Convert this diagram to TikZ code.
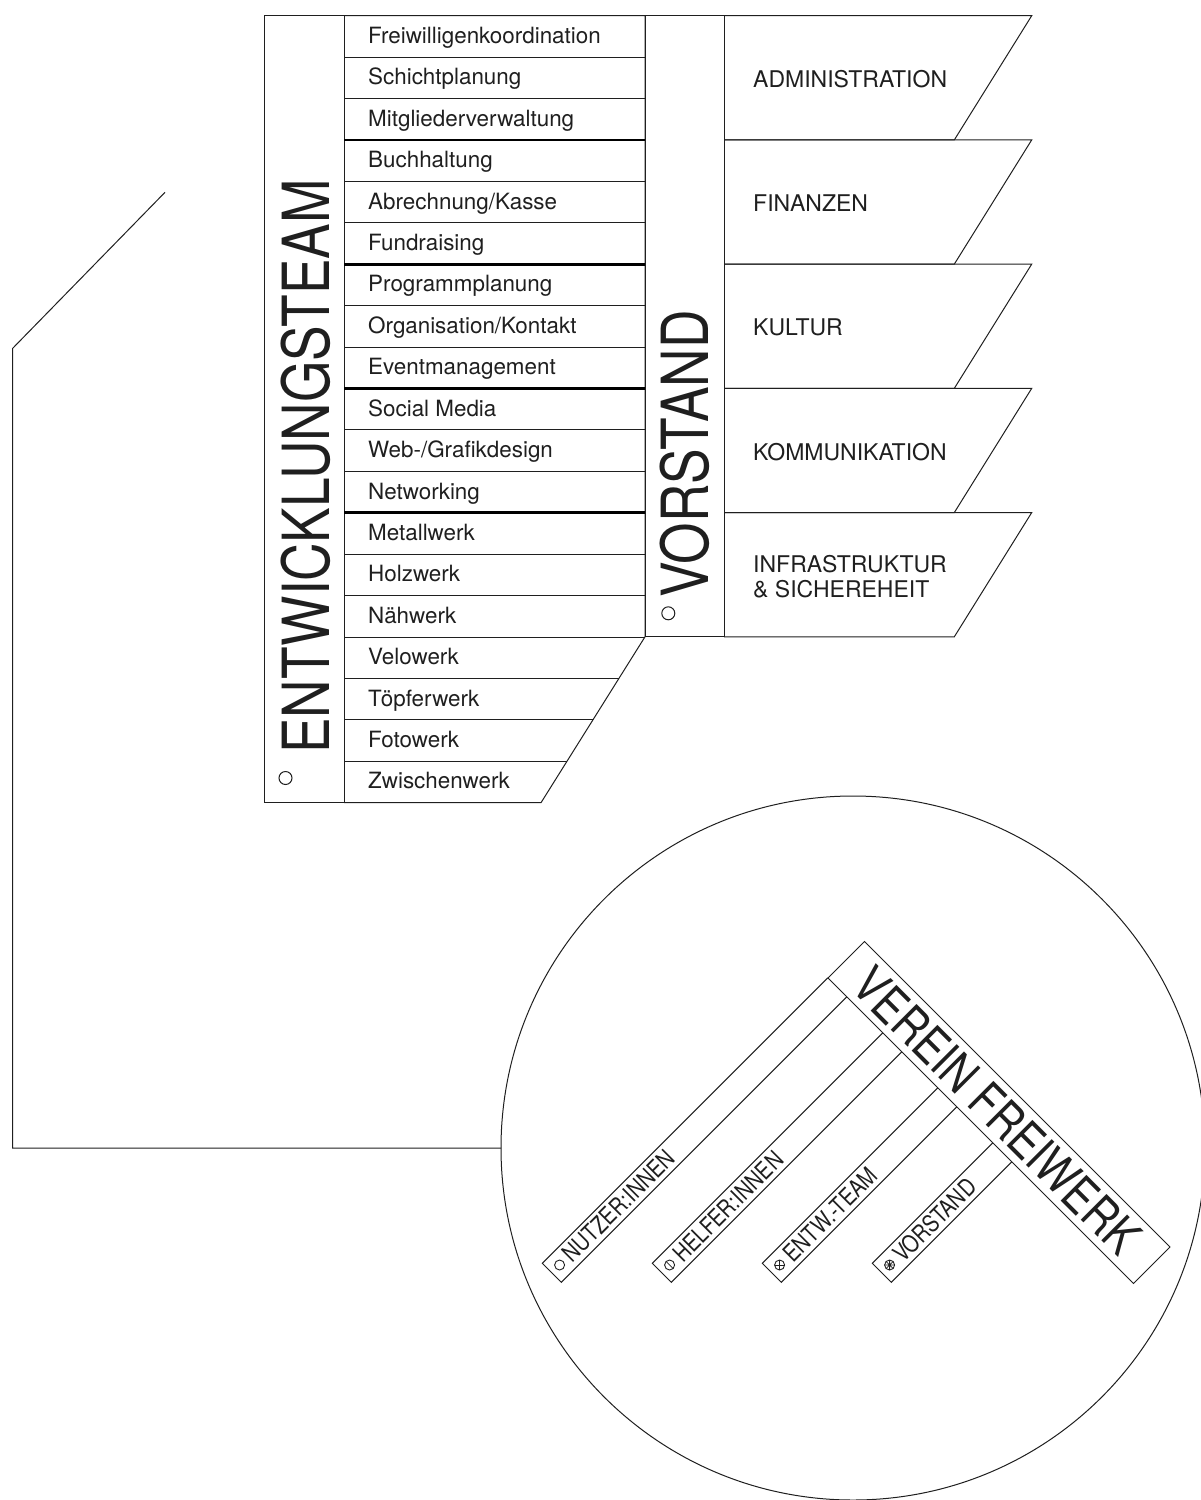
\documentclass[tikz,border=0pt]{standalone}
\usepackage{fontspec}
\setmainfont{TeX Gyre Heros}
\newfontfamily\condfont[FakeStretch=0.82]{TeX Gyre Heros}
\tikzset{
  ln/.style={draw=black!88, line width=1pt},
  grpline/.style={draw=black, line width=2.6pt},
  itemtext/.style={anchor=base west, inner sep=0pt, text=black!88, font=\fontsize{22.4}{25}\selectfont},
  areatext/.style={anchor=west, inner sep=0pt, align=left, text=black!88, font=\fontsize{23}{25}\selectfont},
  bigtitle/.style={anchor=base, inner sep=0pt, text=black!88, font=\condfont\fontsize{65}{65}\selectfont, rotate=90},
  vereintitle/.style={inner sep=0pt, text=black!88, font=\condfont\fontsize{50}{50}\selectfont, rotate=-45},
  sublabel/.style={anchor=west, inner sep=0pt, text=black!88, font=\condfont\fontsize{24}{25}\selectfont, rotate=45},
  dot/.style={circle, ln, inner sep=0pt, outer sep=0pt, minimum size=13pt},
  smalldot/.style={circle, ln, line width=0.9pt, inner sep=0pt, outer sep=0pt, minimum size=10pt},
  symline/.style={draw=black!88, line width=0.8pt},
}
\begin{document}
\begin{tikzpicture}[x=1pt,y=-1pt]
\useasboundingbox (0,0) rectangle (1201,1500);

% ---------- big circle and frame ----------
\node[circle, ln, inner sep=0pt, outer sep=0pt, minimum size=704pt] (verein) at (853,1148) {};
\coordinate (f0) at (165,192.3);
\coordinate (f1) at (12.7,348.3);
\coordinate (f2) at (12.7,1148);
\draw[ln] (f0) -- (f1) -- (f2) -- (verein.west);

% ---------- Entwicklungsteam column ----------
\draw[ln] (264,15.7) rectangle (344,802.7);
\draw[ln] (344,15.7) -- (645,15.7) -- (645,636.8) -- (541,802.7) -- (344,802.7);
\foreach \i in {1,...,15}
  \draw[ln] (344,{15.7+41.42*\i}) -- (645,{15.7+41.42*\i});
\foreach \i in {16,17,18} {
  \pgfmathsetmacro\yy{15.7+41.42*\i}
  \pgfmathsetmacro\xx{645-0.628*(\yy-636.8)}
  \draw[ln] (344,\yy) -- (\xx,\yy);
}
\foreach \i in {3,6,9,12}
  \draw[grpline] (344,{15.7+41.42*\i}) -- (645,{15.7+41.42*\i});

\foreach \t [count=\i from 0] in {Freiwilligenkoordination,Schichtplanung,Mitgliederverwaltung,Buchhaltung,Abrechnung/Kasse,Fundraising,Programmplanung,Organisation/Kontakt,Eventmanagement,Social Media,Web-/Grafikdesign,Networking,Metallwerk,Holzwerk,Nähwerk,Velowerk,Töpferwerk,Fotowerk,Zwischenwerk}
  \node[itemtext] (item\i) at (368,{15.7+41.42*\i+27.7}) {\t};

\node[bigtitle] (entw) at (329,466.5) {ENTWICKLUNGSTEAM};
\node[dot] (entwdot) at (285.5,778) {};

% ---------- Vorstand column ----------
\draw[ln] (645,15.7) rectangle (724,636.8);
\node[bigtitle] (vorst) at (708.3,454) {VORSTAND};
\node[dot] (vorstdot) at (668.3,613.3) {};

\foreach \k in {0,...,4} {
  \pgfmathsetmacro\ya{15.7+124.22*\k}
  \pgfmathsetmacro\yb{\ya+124.22}
  \draw[ln] (724,\ya) -- (1031.7,\ya) -- (954.3,\yb) -- (724,\yb);
}
\node[areatext] (area0) at (753,{15.7+62.1+1.5}) {ADMINISTRATION};
\node[areatext] (area1) at (753,{15.7+124.22+62.1+1.5}) {FINANZEN};
\node[areatext] (area2) at (753,{15.7+2*124.22+62.1+1.5}) {KULTUR};
\node[areatext] (area3) at (753,{15.7+3*124.22+62.1+1.5}) {KOMMUNIKATION};
\node[areatext] (area4) at (753,{15.7+4*124.22+62.1+1.5}) {INFRASTRUKTUR\\\& SICHEREHEIT};

% ---------- Verein Freiwerk ----------
\draw[ln] (864.5,941.5) -- (1170,1247) -- (1133.5,1283.5) -- (828,978) -- cycle;
\node[vereintitle] (vf) at (997,1110.5) {VEREIN FREIWERK};

\foreach \k in {0,1,2,3}
  \draw[ln] ({827.8+55*\k},{977.8+55*\k}) -- ({542.3+110*\k},1263.3)
            -- ({561.3+110*\k},1282.3) -- ({846.8+55*\k},{996.8+55*\k});

\foreach \k/\lab in {0/NUTZER:INNEN,1/HELFER:INNEN,2/ENTW.-TEAM,3/VORSTAND} {
  \node[sublabel] (sub\k) at ({566.7+110*\k},1257.9) {\lab};
  \node[smalldot] (sym\k) at ({559.6+110*\k},1265) {};
}
\draw[symline] (sym1.north west) -- (sym1.south east);
\draw[symline] (sym2.north) -- (sym2.south) (sym2.west) -- (sym2.east);
\draw[symline] (sym3.north) -- (sym3.south) (sym3.west) -- (sym3.east)
               (sym3.north west) -- (sym3.south east) (sym3.north east) -- (sym3.south west);
\end{tikzpicture}
\end{document}
